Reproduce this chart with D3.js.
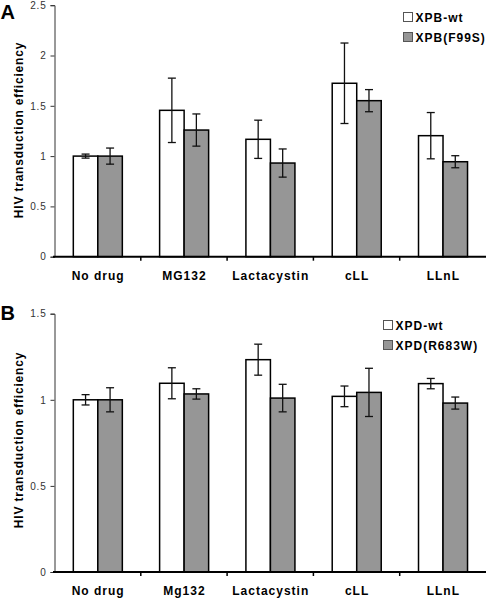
<!DOCTYPE html>
<html><head><meta charset="utf-8">
<script src="https://cdn.jsdelivr.net/npm/d3@7"></script>
<style>body{margin:0;background:#fff}svg{display:block}text{font-family:Arial,"Liberation Sans",sans-serif}</style>
</head><body>
<svg id="c" width="487" height="599"></svg>
<script>
const categoriesA = ["No drug","MG132","Lactacystin","cLL","LLnL"];
const seriesA = ["XPB-wt","XPB(F99S)"];
const wtA = [1.00,1.455,1.167,1.724,1.203];
const wtErrA = [0.02,0.32,0.19,0.40,0.23];
const mutA = [1.00,1.259,0.931,1.551,0.944];
const mutErrA = [0.08,0.16,0.14,0.11,0.06];
const ticksA = [0,0.5,1,1.5,2,2.5];

const categoriesB = ["No drug","Mg132","Lactacystin","cLL","LLnL"];
const seriesB = ["XPD-wt","XPD(R683W)"];
const wtB = [1.00,1.096,1.233,1.020,1.094];
const wtErrB = [0.03,0.09,0.09,0.06,0.03];
const mutB = [1.00,1.034,1.010,1.043,0.981];
const mutErrB = [0.07,0.03,0.08,0.14,0.035];
const ticksB = [0,0.5,1,1.5];

const yTitle = "HIV transduction efficiency";
const colors = ["#ffffff","#969696"];
const svg = d3.select("#c");

function panel(o){
  const g = svg.append("g");
  const x = d3.scaleBand().domain(o.cats).range([54.5,486]).padding(0);
  const inner = d3.scaleBand().domain(o.series).range([x.bandwidth()*0.218, x.bandwidth()*0.786]).padding(0);
  const y = d3.scaleLinear().domain([0,o.max]).range([o.y0,o.y1]);
  const vals = [o.wt,o.mut], errs=[o.wtErr,o.mutErr];

  // y axis
  const ya = g.append("g").attr("transform","translate(54.5,0)")
    .call(d3.axisLeft(y).tickValues(o.ticks).tickSize(4).tickPadding(4).tickFormat(d3.format("")));
  ya.select(".domain").attr("stroke","#333").attr("stroke-width",1);
  ya.selectAll(".tick line").attr("stroke","#333");
  ya.selectAll("text").attr("font-size",10).attr("letter-spacing","0.8px").attr("fill","#333").attr("font-family","Arial, 'Liberation Sans', sans-serif");

  // bars
  o.series.forEach((s,si)=>{
    g.append("g").selectAll("rect").data(o.cats).join("rect")
      .attr("x",(c)=>x(c)+inner(s))
      .attr("y",(c,i)=>y(vals[si][i]))
      .attr("width",inner.bandwidth())
      .attr("height",(c,i)=>y(0)-y(vals[si][i]))
      .attr("fill",colors[si]).attr("stroke","#000").attr("stroke-width",1.5);
  });
  // error bars
  o.series.forEach((s,si)=>{
    const eg = g.append("g").attr("stroke","#111").attr("stroke-width",1.3);
    o.cats.forEach((c,i)=>{
      const cx = x(c)+inner(s)+inner.bandwidth()/2;
      const hi = y(vals[si][i]+errs[si][i]), lo = y(vals[si][i]-errs[si][i]);
      eg.append("line").attr("x1",cx).attr("x2",cx).attr("y1",hi).attr("y2",lo);
      eg.append("line").attr("x1",cx-4).attr("x2",cx+4).attr("y1",hi).attr("y2",hi);
      eg.append("line").attr("x1",cx-4).attr("x2",cx+4).attr("y1",lo).attr("y2",lo);
    });
  });

  // x axis
  const xa = g.append("g").attr("transform",`translate(0,${o.y0})`);
  xa.append("line").attr("x1",53).attr("x2",486).attr("stroke","#000").attr("stroke-width",2);
  const bounds = o.cats.map(c=>x(c)).concat([x.range()[1]]);
  xa.selectAll("line.t").data(bounds.slice(1,5)).join("line").attr("class","t")
    .attr("x1",d=>d).attr("x2",d=>d).attr("y1",0).attr("y2",4).attr("stroke","#000").attr("stroke-width",1.5);
  xa.selectAll("text").data(o.cats).join("text")
    .attr("x",c=>x(c)+x.bandwidth()/2+0.5).attr("y",o.labY)
    .attr("text-anchor","middle").attr("font-size",12).attr("font-weight","bold").attr("letter-spacing","1px")
    .text(c=>c);

  // y title
  g.append("text").attr("transform",`translate(23,${o.titleY}) rotate(-90)`)
    .attr("text-anchor","middle").attr("font-size",12).attr("font-weight","bold").attr("letter-spacing","0.8px")
    .text(yTitle);

  // panel letter
  g.append("text").attr("x",0.5).attr("y",o.letterY).attr("font-size",20).attr("font-weight","bold").text(o.letter);

  // legend
  o.series.forEach((s,si)=>{
    g.append("rect").attr("x",o.legX).attr("y",o.legY+si*20).attr("width",9).attr("height",9)
      .attr("fill",colors[si]).attr("stroke","#555").attr("stroke-width",1);
    g.append("text").attr("x",o.legX+12).attr("y",o.legY+si*20+9)
      .attr("font-size",12).attr("font-weight","bold").attr("letter-spacing","1px").text(s);
  });
}

panel({cats:categoriesA,series:seriesA,wt:wtA,wtErr:wtErrA,mut:mutA,mutErr:mutErrA,ticks:ticksA,max:2.5,
  y0:256.7,y1:5.2,labY:23.5,titleY:130,letter:"A",letterY:19,legX:403.5,legY:12.5});
panel({cats:categoriesB,series:seriesB,wt:wtB,wtErr:wtErrB,mut:mutB,mutErr:mutErrB,ticks:ticksB,max:1.5,
  y0:572,y1:313.7,labY:23,titleY:440,letter:"B",letterY:320,legX:383.5,legY:320.5});
</script>
</body></html>
